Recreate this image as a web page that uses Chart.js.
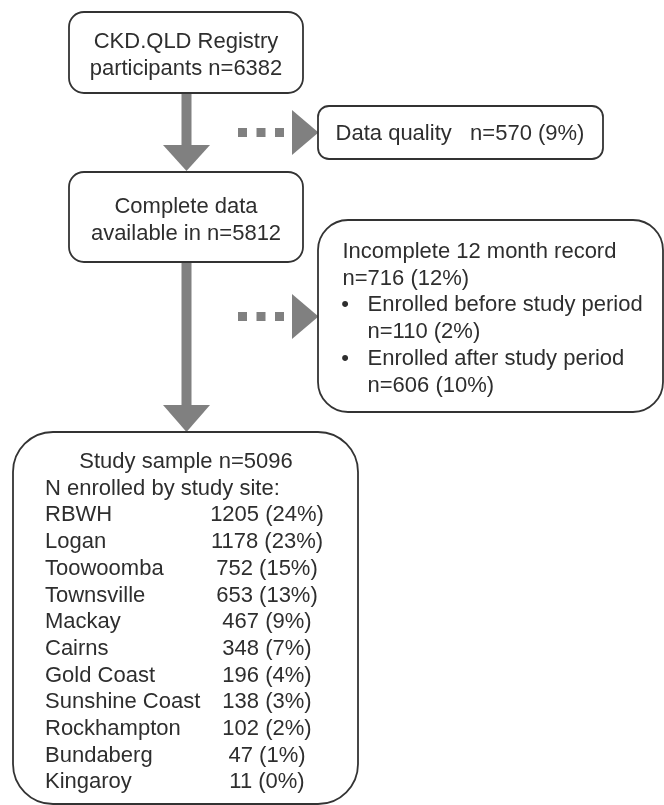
<!DOCTYPE html>
<html>
<head>
<meta charset="utf-8">
<script src="https://cdn.jsdelivr.net/npm/chart.js@4.4.1/dist/chart.umd.min.js"></script>
<style>
    html, body { margin: 0; padding: 0; background: #ffffff; }
    #flow { display: block; }
</style>
</head>
<body>
<canvas id="flow" width="664" height="805"></canvas>
<script>
// Flow counts
const stepNames = ['CKD.QLD Registry', 'participants', 'Data quality', 'Complete data', 'available in', 'Incomplete 12 month record', 'Study sample'];
const registryTotal = 6382;
const excludedCounts = [570, 716];
const excludedPercents = [9, 12];
const completeCount = 5812;
const studyCount = 5096;

const subNames = ['Enrolled before study period', 'Enrolled after study period'];
const subCounts = [110, 606];
const subPercents = [2, 10];

const siteNames = ['RBWH', 'Logan', 'Toowoomba', 'Townsville', 'Mackay', 'Cairns', 'Gold Coast', 'Sunshine Coast', 'Rockhampton', 'Bundaberg', 'Kingaroy'];
const siteCounts = [1205, 1178, 752, 653, 467, 348, 196, 138, 102, 47, 11];
const sitePercents = [24, 23, 15, 13, 9, 7, 4, 3, 2, 1, 0];

// Theme
const COLORS = {
    text: '#2e2e2e',
    border: '#333333',
    arrow: '#808080'
};
const FONT = '22px "Liberation Sans", Arial, sans-serif';
const LINE = 26.7;

// Layout in scale units (x: 0..664, y: 0..805 top-down)
const BOXES = {
    registry: { x0: 69, y0: 12, x1: 303, y1: 93, r: 15 },
    quality: { x0: 318, y0: 106, x1: 603, y1: 159, r: 11 },
    complete: { x0: 69, y0: 172, x1: 303, y1: 262, r: 15 },
    incomplete: { x0: 318, y0: 220, x1: 663, y1: 412, r: 30 },
    study: { x0: 13, y0: 432, x1: 358, y1: 804, r: 40 }
};

function fmt(n, pct) {
    return pct === undefined ? `n=${n}` : `n=${n} (${pct}%)`;
}

const flowPlugin = {
    id: 'flow',
    afterDraw(chart) {
        const { ctx, scales } = chart;
        const X = v => scales.x.getPixelForValue(v);
        const Y = v => scales.y.getPixelForValue(v);

        function box(b) {
            const x0 = X(b.x0), x1 = X(b.x1), y0 = Y(b.y0), y1 = Y(b.y1), r = b.r;
            ctx.beginPath();
            ctx.moveTo(x0 + r, y0);
            ctx.lineTo(x1 - r, y0);
            ctx.arcTo(x1, y0, x1, y0 + r, r);
            ctx.lineTo(x1, y1 - r);
            ctx.arcTo(x1, y1, x1 - r, y1, r);
            ctx.lineTo(x0 + r, y1);
            ctx.arcTo(x0, y1, x0, y1 - r, r);
            ctx.lineTo(x0, y0 + r);
            ctx.arcTo(x0, y0, x0 + r, y0, r);
            ctx.closePath();
            ctx.fillStyle = '#ffffff';
            ctx.fill();
            ctx.lineWidth = 1.8;
            ctx.strokeStyle = COLORS.border;
            ctx.stroke();
        }

        function text(str, x, y, align) {
            ctx.textAlign = align || 'left';
            ctx.fillText(str, X(x), Y(y));
        }

        function downArrow(cx, top, headTop, tip) {
            ctx.fillStyle = COLORS.arrow;
            ctx.fillRect(X(cx - 5), Y(top), X(cx + 5) - X(cx - 5), Y(headTop) - Y(top) + 1);
            ctx.beginPath();
            ctx.moveTo(X(cx - 23.5), Y(headTop));
            ctx.lineTo(X(cx + 23.5), Y(headTop));
            ctx.lineTo(X(cx), Y(tip));
            ctx.closePath();
            ctx.fill();
        }

        function dottedArrow(cy) {
            ctx.fillStyle = COLORS.arrow;
            [238, 256.5, 275].forEach(x => {
                ctx.fillRect(X(x), Y(cy - 4.5), 9, 9);
            });
            ctx.beginPath();
            ctx.moveTo(X(292), Y(cy - 22.5));
            ctx.lineTo(X(292), Y(cy + 22.5));
            ctx.lineTo(X(318.5), Y(cy));
            ctx.closePath();
            ctx.fill();
        }

        ctx.save();

        // Arrows first so boxes sit on top of them
        downArrow(186.5, 93, 145, 171);
        downArrow(186.5, 262, 405, 432);
        dottedArrow(132.5);
        dottedArrow(316.5);

        Object.values(BOXES).forEach(box);

        ctx.font = FONT;
        ctx.fillStyle = COLORS.text;
        ctx.textBaseline = 'alphabetic';

        // Registry
        text(stepNames[0], 186, 48, 'center');
        text(`${stepNames[1]} n=${registryTotal}`, 186, 48 + LINE, 'center');

        // Data quality exclusion
        text(`${stepNames[2]}   ${fmt(excludedCounts[0], excludedPercents[0])}`, 460, 140, 'center');

        // Complete data
        text(stepNames[3], 186, 213, 'center');
        text(`${stepNames[4]} n=${completeCount}`, 186, 213 + LINE, 'center');

        // Incomplete record exclusion
        let y = 258;
        text(stepNames[5], 342.5, y);
        text(fmt(excludedCounts[1], excludedPercents[1]), 342.5, y + LINE);
        subNames.forEach((name, i) => {
            const by = y + LINE * (2 + i * 2);
            text('\u2022', 345, by, 'center');
            text(name, 367.5, by);
            text(fmt(subCounts[i], subPercents[i]), 367.5, by + LINE);
        });

        // Study sample by site
        text(`${stepNames[6]} n=${studyCount}`, 186, 468, 'center');
        text('N enrolled by study site:', 45, 468 + LINE);
        siteNames.forEach((name, i) => {
            const sy = 468 + LINE * (i + 2);
            text(name, 45, sy);
            text(`${siteCounts[i]} (${sitePercents[i]}%)`, 267, sy, 'center');
        });

        ctx.restore();
    }
};

new Chart(document.getElementById('flow').getContext('2d'), {
    type: 'scatter',
    data: { datasets: [{ data: [], pointRadius: 0 }] },
    options: {
        responsive: false,
        animation: false,
        devicePixelRatio: 1,
        layout: { padding: 0 },
        plugins: { legend: { display: false }, tooltip: { enabled: false } },
        scales: {
            x: { type: 'linear', min: 0, max: 664, display: false },
            y: { type: 'linear', min: 0, max: 805, reverse: true, display: false }
        }
    },
    plugins: [flowPlugin]
});
</script>
</body>
</html>
